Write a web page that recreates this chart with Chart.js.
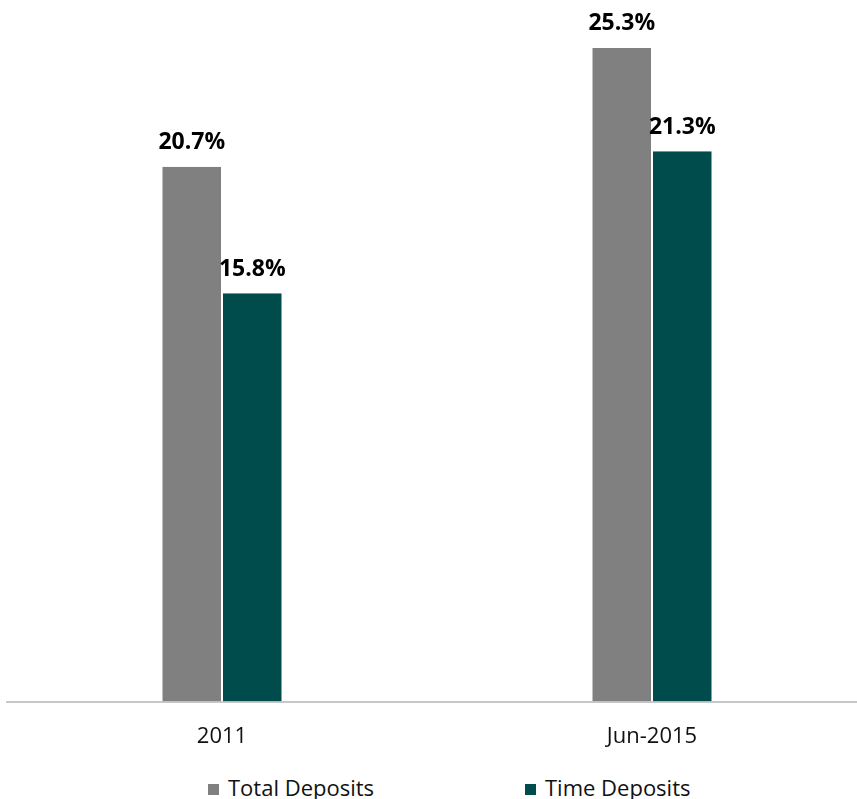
<!DOCTYPE html>
<html>
<head>
<meta charset="utf-8">
<title>Deposits</title>
<script src="https://cdn.jsdelivr.net/npm/chart.js@4.4.1/dist/chart.umd.min.js"></script>
<style>
  html, body { margin: 0; padding: 0; background: #fff; overflow: hidden; }
  #wrap { position: relative; width: 857px; height: 799px; overflow: hidden; }
  #chart { position: absolute; left: 0; top: 0; }
  .legend { position: absolute; top: 772px; left: 0; font-family: "Open Sans", sans-serif; font-size: 22px; color: #111; }
  .legend span.box { display: inline-block; width: 11px; height: 11px; margin-right: 9px; vertical-align: 1px; }
</style>
</head>
<body>
<div id="wrap">
  <canvas id="chart" width="867" height="772"></canvas>
  <div class="legend" id="legend"></div>
</div>
<script>
"use strict";

const periods = ["2011", "Jun-2015"];
const totalDeposits = [20.7, 25.3];
const timeDeposits = [15.8, 21.3];
const seriesNames = ["Total Deposits", "Time Deposits"];
const seriesColors = ["#808080", "#004c4c"];

// values printed above each bar
const barLabels = {
  id: "barLabels",
  afterDatasetsDraw(chart) {
    const ctx = chart.ctx;
    ctx.save();
    ctx.font = "bold 23px 'Open Sans', sans-serif";
    ctx.fillStyle = "#000";
    ctx.textAlign = "center";
    ctx.textBaseline = "middle";
    chart.data.datasets.forEach((ds, i) => {
      chart.getDatasetMeta(i).data.forEach((bar, j) => {
        ctx.fillText(ds.data[j].toFixed(1) + "%", bar.x, bar.y - 24);
      });
    });
    ctx.restore();
  },
};

function renderChart() {
  const chartArea = document.getElementById("chart");

  const barChartData = {
    labels: periods,
    datasets: [
      {
        label: seriesNames[0],
        data: totalDeposits,
        backgroundColor: seriesColors[0],
        borderColor: "#fff",
        borderWidth: { left: 1, right: 1, top: 0, bottom: 0 },
        categoryPercentage: 0.2814,
        barPercentage: 1,
      },
      {
        label: seriesNames[1],
        data: timeDeposits,
        backgroundColor: seriesColors[1],
        borderColor: "#fff",
        borderWidth: { left: 1, right: 1, top: 0, bottom: 0 },
        categoryPercentage: 0.2814,
        barPercentage: 1,
      },
    ],
  };

  new Chart(chartArea, {
    type: "bar",
    data: barChartData,
    plugins: [barLabels],
    options: {
      responsive: false,
      animation: false,
      layout: { padding: { left: 7, top: 4, right: 0, bottom: 0 } },
      plugins: {
        legend: { display: false },
        tooltip: { enabled: false },
      },
      scales: {
        x: {
          grid: { display: false, drawTicks: false },
          border: { display: true, color: "#c8c8c8", width: 2 },
          ticks: {
            padding: 22,
            color: "#111",
            font: { family: "'Open Sans', sans-serif", size: 22 },
          },
        },
        y: {
          display: false,
          min: 0,
          max: 27,
        },
      },
    },
  });

  // legend row under the axis
  const legend = document.getElementById("legend");
  const offsets = [208, 525];
  seriesNames.forEach((name, i) => {
    const item = document.createElement("div");
    item.style.position = "absolute";
    item.style.left = offsets[i] + "px";
    item.style.whiteSpace = "nowrap";
    item.innerHTML = '<span class="box" style="background:' + seriesColors[i] + '"></span>' + name;
    legend.appendChild(item);
  });
}

renderChart();
</script>
</body>
</html>
